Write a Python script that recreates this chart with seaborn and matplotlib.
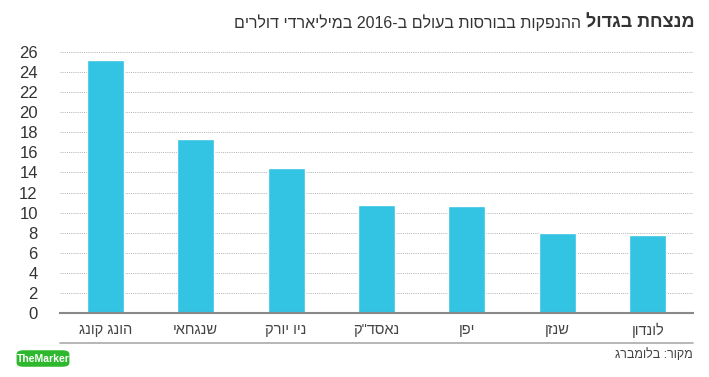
import re
import matplotlib
matplotlib.use("Agg")
import matplotlib.pyplot as plt
import seaborn as sns
import pandas as pd
from matplotlib.patches import FancyBboxPatch

categories = ["הונג קונג", "שנגחאי", "ניו יורק", "נאסד\"ק", "יפן", "שנזן", "לונדון"]
values = [25.2, 17.3, 14.4, 10.8, 10.7, 8.0, 7.8]
yticks = list(range(0, 27, 2))
title_bold = "מנצחת בגדול"
title_rest = "ההנפקות בבורסות בעולם ב-2016 במיליארדי דולרים"
source = "מקור: בלומברג"


def vis(s):
    """Convert logical Hebrew text to visual order for LTR rendering."""
    tokens = re.findall(r"[A-Za-z0-9.]+|[\u0590-\u05FF\"'״]+|\s+|.", s)
    out = []
    for t in reversed(tokens):
        if re.match(r"[\u0590-\u05FF]", t):
            out.append(t[::-1])
        else:
            out.append(t)
    return "".join(out)


sns.set_theme(style="white")
plt.rcParams["font.family"] = ["Liberation Sans", "DejaVu Sans"]

fig = plt.figure(figsize=(7.09, 3.77), dpi=100)
ax = fig.add_axes([60 / 709, 1 - 313 / 377, (693 - 60) / 709, (313 - 52) / 377])

df = pd.DataFrame({"cat": [vis(c) for c in categories], "val": values})
sns.barplot(data=df, x="cat", y="val", color="#33C3E3", width=0.41, ax=ax,
            saturation=1)

ax.set_ylim(0, 26)
ax.set_xlim(-0.5, len(categories) - 0.5)
ax.set_yticks(yticks)
ax.set_yticklabels([str(t) for t in yticks], fontsize=12, color="#333333")
ax.tick_params(axis="y", length=0, pad=16)
ax.tick_params(axis="x", length=0, pad=7, labelsize=10.5, labelcolor="#444444")
ax.set_xlabel("")
ax.set_ylabel("")
ax.set_axisbelow(True)
ax.yaxis.grid(True, linestyle=(0, (1, 1.2)), color="#b0b0b0", linewidth=0.7)
ax.xaxis.grid(False)
for s in ["top", "right", "left"]:
    ax.spines[s].set_visible(False)
ax.spines["bottom"].set_color("#888888")
ax.spines["bottom"].set_linewidth(1.5)

# title
fig.text(695 / 709, 1 - 23 / 377, vis(title_bold), ha="right", va="center",
         fontsize=13, fontweight="bold", color="#333333")
fig.canvas.draw()
renderer = fig.canvas.get_renderer()
tb = fig.texts[0].get_window_extent(renderer)
fig.text((tb.x0 - 5) / 709, 1 - 23 / 377, vis(title_rest), ha="right", va="center",
         fontsize=11.5, color="#333333")

# separator line
fig.add_artist(plt.Line2D([60 / 709, 693 / 709], [1 - 343 / 377, 1 - 343 / 377],
                          color="#aaaaaa", linewidth=1.2))

# source
fig.text(693 / 709, 1 - 355 / 377, vis(source), ha="right", va="center",
         fontsize=9, color="#444444")

# TheMarker logo
logo = FancyBboxPatch((18 / 709, 1 - 366 / 377), 50 / 709, 15 / 377,
                      boxstyle="round,pad=0.002,rounding_size=0.01",
                      transform=fig.transFigure, facecolor="#2DB82D",
                      edgecolor="none")
fig.add_artist(logo)
fig.text(43 / 709, 1 - 358.5 / 377, "TheMarker", ha="center", va="center",
         fontsize=7.5, fontweight="bold", color="white")

fig.savefig("out.png", dpi=100)
